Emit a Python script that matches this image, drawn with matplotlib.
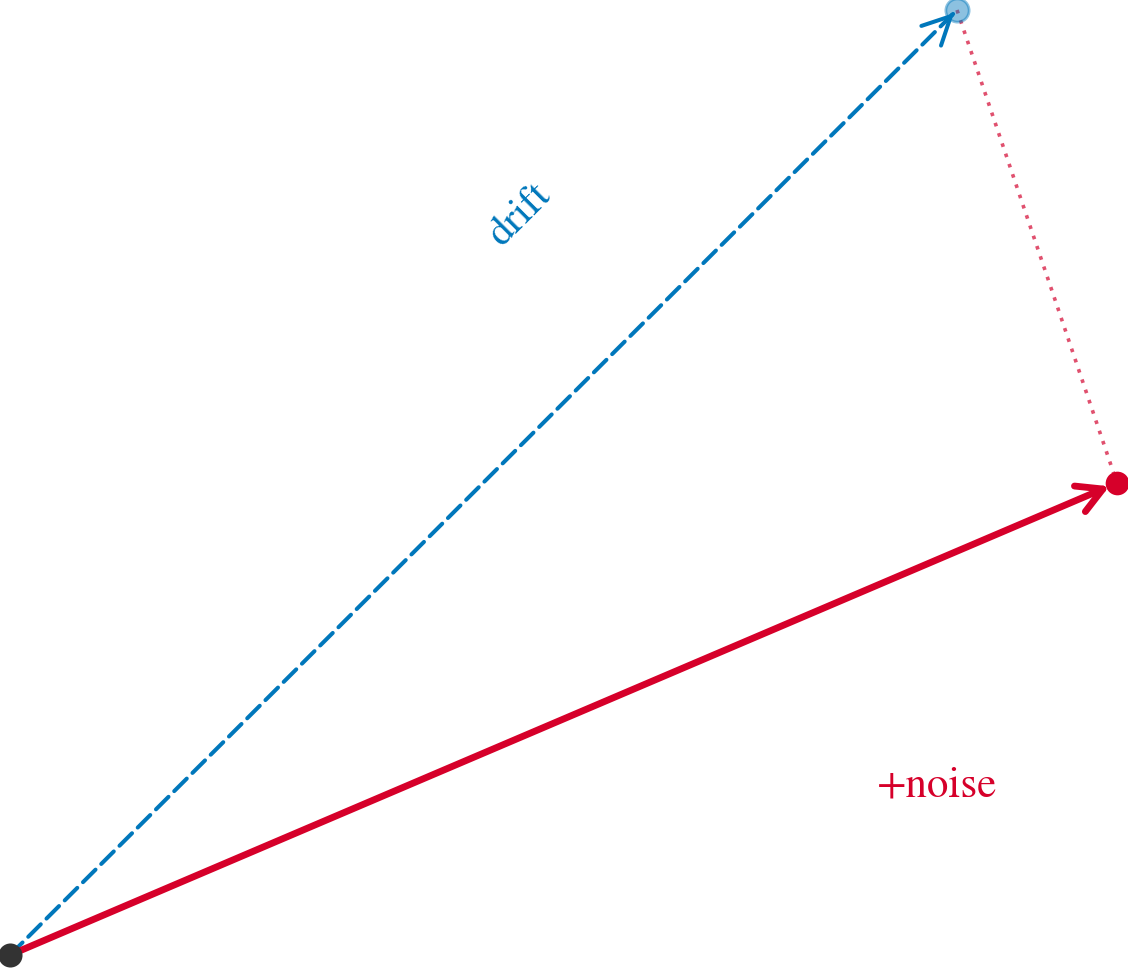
import matplotlib
matplotlib.use("Agg")
import matplotlib.pyplot as plt
from matplotlib.patches import FancyArrowPatch

# Data (units of the diagram)
origin = (0.0, 0.0)
drift = (9.47, 9.45)          # drift vector
noise = (1.60, -4.73)         # noise vector added to drift
labels = ["drift", "+noise"]

blue = "#0077bb"
red = "#d6002a"
pink = "#e0506e"

drift_end = (origin[0] + drift[0], origin[1] + drift[1])
total_end = (drift_end[0] + noise[0], drift_end[1] + noise[1])

fig = plt.figure(figsize=(11.28, 9.68), dpi=100)
ax = fig.add_axes([0, 0, 1, 1])
ax.set_xlim(-0.10, 11.18)
ax.set_ylim(-0.13, 9.55)
ax.set_aspect("equal")
ax.axis("off")

# dotted noise segment
ax.plot([drift_end[0], total_end[0]], [drift_end[1], total_end[1]],
        linestyle=(0, (1, 2.0)), color=pink, lw=2.6, zorder=2)

# drift arrow: dashed shaft + solid head
shaft = FancyArrowPatch(origin, drift_end, arrowstyle="-",
                        linestyle=(0, (4.4, 2.0)), color=blue, lw=2.9,
                        shrinkA=0, shrinkB=4, mutation_scale=1, capstyle="round",
                        zorder=3)
ax.add_patch(shaft)
near_end = (origin[0] + drift[0] * 0.995, origin[1] + drift[1] * 0.995)
head = FancyArrowPatch(near_end, drift_end, arrowstyle="->,head_length=20,head_width=10",
                       color=blue, lw=2.9, shrinkA=0, shrinkB=3, mutation_scale=1,
                       capstyle="round", joinstyle="round", zorder=3)
ax.add_patch(head)

# total arrow (solid)
a2 = FancyArrowPatch(origin, total_end, arrowstyle="->,head_length=18,head_width=10",
                     color=red, lw=4.9, shrinkA=0, shrinkB=6,
                     mutation_scale=1, capstyle="round", joinstyle="round", zorder=4)
ax.add_patch(a2)

# points
ax.scatter([origin[0]], [origin[1]], s=300, color="#333333", zorder=5, linewidths=0)
ax.scatter([drift_end[0]], [drift_end[1]], s=280, facecolor=blue, alpha=0.45,
           edgecolor=blue, linewidths=2, zorder=5)
ax.scatter([total_end[0]], [total_end[1]], s=290, color=red, zorder=5, linewidths=0)

# labels
ax.text(5.10, 7.40, labels[0], color=blue,
        fontsize=30, family="STIXGeneral", rotation=45,
        rotation_mode="anchor", ha="center", va="center")
ax.text(9.27, 1.69, labels[1], color=red, fontsize=31,
        family="STIXGeneral", ha="center", va="center")

fig.savefig("out.png", dpi=100)
